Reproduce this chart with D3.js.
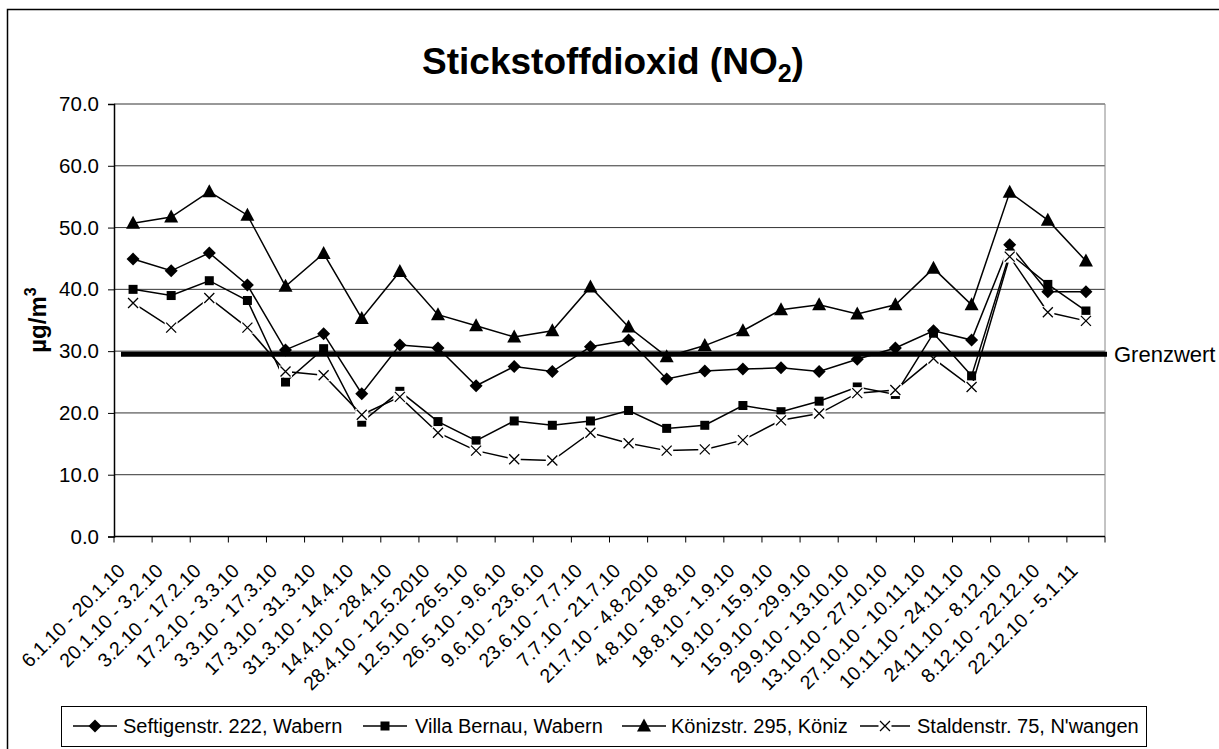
<!DOCTYPE html>
<html>
<head>
<meta charset="utf-8">
<script src="https://cdn.jsdelivr.net/npm/d3@7"></script>
<style>
 body { margin: 0; background: white; }
 text { font-family: "Liberation Sans", Arial, sans-serif; }
</style>
</head>
<body>
<div id="chart"></div>
<script>
var width = 1219;
var height = 749;

// data
var periods = ["6.1.10 - 20.1.10", "20.1.10 - 3.2.10", "3.2.10 - 17.2.10", "17.2.10 - 3.3.10",
  "3.3.10 - 17.3.10", "17.3.10 - 31.3.10", "31.3.10 - 14.4.10", "14.4.10 - 28.4.10",
  "28.4.10 - 12.5.2010", "12.5.10 - 26.5.10", "26.5.10 - 9.6.10", "9.6.10 - 23.6.10",
  "23.6.10 - 7.7.10", "7.7.10 - 21.7.10", "21.7.10 - 4.8.2010", "4.8.10 - 18.8.10",
  "18.8.10 - 1.9.10", "1.9.10 - 15.9.10", "15.9.10 - 29.9.10", "29.9.10 - 13.10.10",
  "13.10.10 - 27.10.10", "27.10.10 - 10.11.10", "10.11.10 - 24.11.10", "24.11.10 - 8.12.10",
  "8.12.10 - 22.12.10", "22.12.10 - 5.1.11"];
var seftigen = [44.9, 43.0, 45.9, 40.7, 30.2, 32.8, 23.1, 31.0, 30.5, 24.4, 27.5, 26.7, 30.7,
  31.8, 25.5, 26.8, 27.1, 27.3, 26.7, 28.7, 30.5, 33.3, 31.8, 47.2, 39.6, 39.6];
var villa = [40.0, 39.0, 41.4, 38.2, 25.0, 30.4, 18.5, 23.5, 18.6, 15.5, 18.7, 18.0, 18.7,
  20.4, 17.5, 18.0, 21.2, 20.2, 21.9, 24.2, 23.0, 32.9, 26.0, 45.8, 40.8, 36.5];
var koeniz = [50.7, 51.7, 55.8, 52.0, 40.5, 45.8, 35.3, 42.9, 35.9, 34.1, 32.3, 33.3, 40.4,
  33.9, 29.1, 30.9, 33.3, 36.7, 37.5, 36.0, 37.5, 43.4, 37.5, 55.7, 51.2, 44.6];
var stalden = [37.8, 33.8, 38.6, 33.8, 26.7, 26.1, 19.7, 22.6, 16.8, 13.9, 12.5, 12.3, 16.8,
  15.1, 13.9, 14.1, 15.6, 18.8, 19.9, 23.2, 23.7, 28.8, 24.2, 45.3, 36.3, 34.9];
var seriesNames = ["Seftigenstr. 222, Wabern", "Villa Bernau, Wabern", "Könizstr. 295, Köniz", "Staldenstr. 75, N'wangen"];
var yTicks = [0, 10, 20, 30, 40, 50, 60, 70];
var grenzwert = 29.5;

var series = [
  {name: seriesNames[0], values: seftigen, marker: "diamond"},
  {name: seriesNames[1], values: villa, marker: "square"},
  {name: seriesNames[2], values: koeniz, marker: "triangle"},
  {name: seriesNames[3], values: stalden, marker: "cross"}
];

var svg = d3.select("#chart")
  .append("svg")
  .attr("width", width)
  .attr("height", height);

// outer frame
svg.append("rect")
  .attr("x", 7.5).attr("y", 9.5)
  .attr("width", 1240).attr("height", 760)
  .style("fill", "white").style("stroke", "black").style("stroke-width", 1.5);

var plotLeft = 114, plotRight = 1105, plotTop = 104, plotBottom = 536.5;

var x = d3.scaleBand().domain(periods).range([plotLeft, plotRight]).padding(0);
var y = d3.scaleLinear().domain([0, 70]).range([plotBottom, plotTop]);
function cx(i) { return x(periods[i]) + x.bandwidth() / 2; }

// title
var title = svg.append("text")
  .attr("x", 613).attr("y", 74)
  .attr("text-anchor", "middle")
  .style("font-size", "37px").style("font-weight", "bold");
title.append("tspan").text("Stickstoffdioxid (NO");
title.append("tspan").attr("dy", 8).style("font-size", "25px").text("2");
title.append("tspan").attr("dy", -8).text(")");

// grid
svg.selectAll(".grid")
  .data(yTicks.filter(function(d) { return d > 0; }))
  .enter().append("line")
  .attr("x1", plotLeft).attr("x2", plotRight)
  .attr("y1", function(d) { return y(d); })
  .attr("y2", function(d) { return y(d); })
  .style("stroke", "#333").style("stroke-width", 1);

// right border of plot
svg.append("line")
  .attr("x1", plotRight).attr("x2", plotRight).attr("y1", plotTop).attr("y2", plotBottom)
  .style("stroke", "#888").style("stroke-width", 1);

// y axis
var yAxis = d3.axisLeft(y).tickValues(yTicks).tickSize(6).tickPadding(9)
  .tickFormat(d3.format(".1f"));
var gy = svg.append("g").attr("transform", "translate(" + plotLeft + ",0)").call(yAxis);
gy.select(".domain").style("stroke", "black").style("stroke-width", 1.5);
gy.selectAll("text").style("font-size", "20.5px").style("fill", "black")
  .style("font-family", '"Liberation Sans", Arial, sans-serif');

// y title
var yt = svg.append("text")
  .attr("transform", "translate(46,320) rotate(-90)")
  .attr("text-anchor", "middle")
  .style("font-size", "24px").style("font-weight", "bold");
yt.append("tspan").text("µg/m");
yt.append("tspan").attr("dy", -10).style("font-size", "16px").text("3");

// x axis
var ticksX = d3.range(periods.length + 1).map(function(i) { return plotLeft + i * x.bandwidth(); });
svg.append("line")
  .attr("x1", plotLeft).attr("x2", plotRight).attr("y1", plotBottom).attr("y2", plotBottom)
  .style("stroke", "black").style("stroke-width", 1.5);
svg.selectAll(".xtick")
  .data(ticksX).enter().append("line")
  .attr("x1", function(d) { return d; }).attr("x2", function(d) { return d; })
  .attr("y1", plotBottom).attr("y2", plotBottom + 6)
  .style("stroke", "black").style("stroke-width", 1);

svg.selectAll(".xlabel")
  .data(periods).enter().append("text")
  .attr("transform", function(d, i) { return "translate(" + (cx(i) - 7) + ",572) rotate(-45)"; })
  .attr("text-anchor", "end")
  .style("font-size", "19.5px")
  .text(function(d) { return d; });

// markers
function drawMarker(g, type, px, py) {
  if (type === "diamond") {
    g.append("path").attr("d", "M" + px + "," + (py - 6.5) + "L" + (px + 6.5) + "," + py + "L" + px + "," + (py + 6.5) + "L" + (px - 6.5) + "," + py + "Z")
      .style("fill", "black");
  } else if (type === "square") {
    g.append("rect").attr("x", px - 4.5).attr("y", py - 4.5).attr("width", 9).attr("height", 9)
      .style("fill", "black");
  } else if (type === "triangle") {
    g.append("path").attr("d", "M" + px + "," + (py - 7.5) + "L" + (px + 7) + "," + (py + 5.5) + "L" + (px - 7) + "," + (py + 5.5) + "Z")
      .style("fill", "black");
  } else {
    g.append("rect").attr("x", px - 6.5).attr("y", py - 6).attr("width", 13).attr("height", 12)
      .style("fill", "white");
    g.append("path").attr("d", "M" + (px - 5) + "," + (py - 5) + "L" + (px + 5) + "," + (py + 5) + "M" + (px + 5) + "," + (py - 5) + "L" + (px - 5) + "," + (py + 5))
      .style("stroke", "black").style("stroke-width", 1.3).style("fill", "none");
  }
}

var line = d3.line()
  .x(function(d, i) { return cx(i); })
  .y(function(d) { return y(d); });

series.forEach(function(s) {
  var g = svg.append("g");
  g.append("path").datum(s.values).attr("d", line)
    .style("fill", "none").style("stroke", "black").style("stroke-width", 1.5);
  s.values.forEach(function(v, i) { drawMarker(g, s.marker, cx(i), y(v)); });
});

// limit line
svg.append("line")
  .attr("x1", 121).attr("x2", 1107)
  .attr("y1", y(grenzwert)).attr("y2", y(grenzwert))
  .style("stroke", "black").style("stroke-width", 5);
svg.append("text")
  .attr("x", 1114).attr("y", y(grenzwert)).attr("dy", "0.36em")
  .style("font-size", "22px").text("Grenzwert");

// legend
var lg = svg.append("g");
lg.append("rect").attr("x", 61.5).attr("y", 706.5).attr("width", 1085).attr("height", 40)
  .style("fill", "white").style("stroke", "black").style("stroke-width", 1);
var legendX = [73, 363, 622, 860];
var legendText = [123, 415, 671, 917];
series.forEach(function(s, i) {
  var lx = legendX[i];
  var w = i === 3 ? 50 : 44;
  lg.append("line").attr("x1", lx).attr("x2", lx + w).attr("y1", 726).attr("y2", 726)
    .style("stroke", "black").style("stroke-width", 1.5);
  drawMarker(lg, s.marker, lx + w / 2, 726);
  lg.append("text").attr("x", legendText[i]).attr("y", 726).attr("dy", "0.36em")
    .style("font-size", "20px").text(s.name);
});
</script>
</body>
</html>
